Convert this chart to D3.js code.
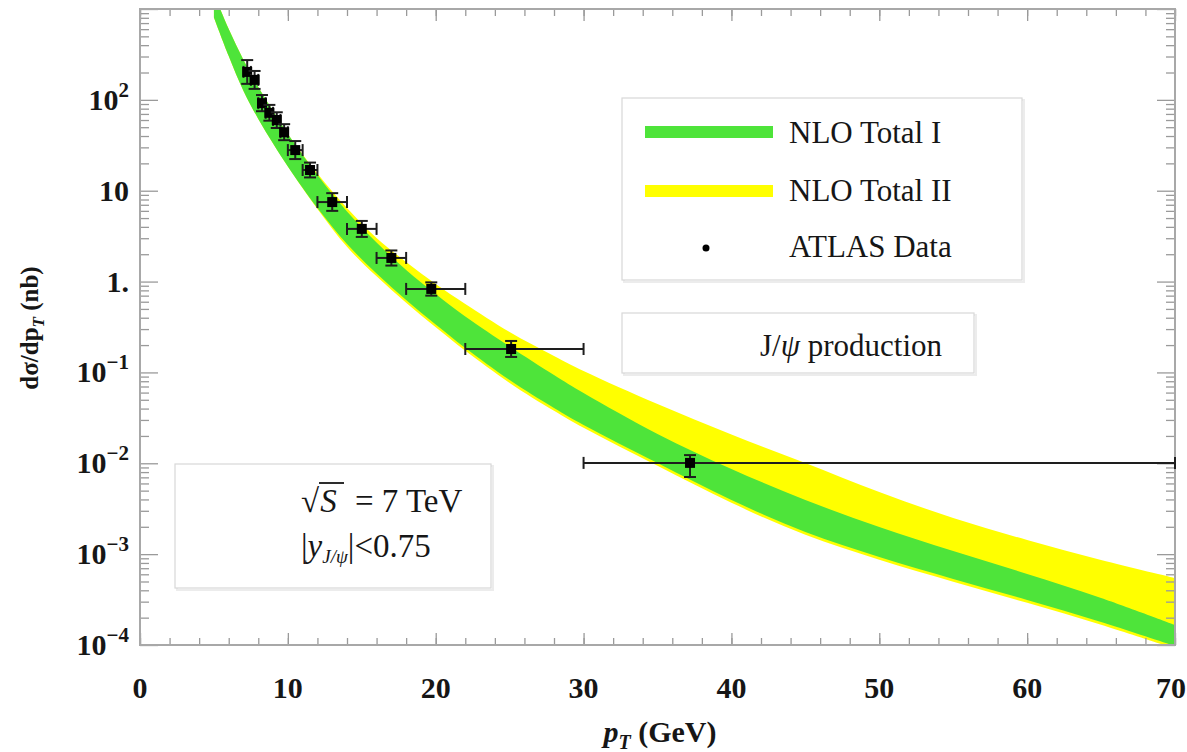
<!DOCTYPE html>
<html><head><meta charset="utf-8">
<script src="https://cdn.jsdelivr.net/npm/d3@7/dist/d3.min.js"></script>
<style>
body{margin:0;background:#fff;}
svg text{font-family:"Liberation Serif","DejaVu Serif",serif;fill:#161616;}
</style></head>
<body><svg id="c" width="1187" height="752"></svg>
<script>
// ---- band data (pT in GeV, dσ/dpT in nb) ----
const bandPt = [5,6,7,8,9,10,12,14,16,18,20,22,25,28,30,35,40,45,50,55,60,65,70];
const greenUpper = [1463,602.5,274.6,138.5,75.4,42.1,14.89,5.906,2.69,1.341,0.730,0.4127,0.1930,0.0937,0.0594,0.02102,0.00866,0.003946,0.001990,0.001083,0.000605,0.000329,0.000166];
const greenLower = [808,303.9,125.2,61.6,33.1,18.5,6.45,2.592,1.227,0.627,0.3370,0.1858,0.0825,0.0406,0.02640,0.01008,0.003946,0.001753,0.000930,0.000533,0.000313,0.0001793,0.0000976];
const yellowUpper = [1463,602.5,274.6,138.5,75.4,42.1,15.47,6.45,3.016,1.642,0.9406,0.5665,0.2787,0.1517,0.1037,0.0449,0.02075,0.01008,0.00483,0.0025,0.001431,0.000862,0.000546];
const yellowLower = [808,303.9,125.2,61.6,33.1,18.5,6.3,2.41,1.141,0.583,0.3134,0.1728,0.0767,0.0378,0.02455,0.00937,0.00367,0.00163,0.000865,0.000496,0.000291,0.0001667,0.0000908];

// ---- ATLAS data ----
const dataPt  = [7.25,7.75,8.25,8.75,9.25,9.75,10.5,11.5,13.0,15.0,17.0,19.7,25.1,37.2];
const dataVal = [203,166,92,72,60,44,28,16.9,7.5,3.8,1.82,0.83,0.181,0.0101];
const dataLo  = [150,132,75,59,49,36,22.3,14.0,6.0,3.1,1.5,0.70,0.148,0.00706];
const dataHi  = [274,208,113,88,73,54,35.2,20.4,9.4,4.65,2.2,0.98,0.222,0.0123];
const binLo   = [7,7.5,8,8.5,9,9.5,10,11,12,14,16,18,22,30];
const binHi   = [7.5,8,8.5,9,9.5,10,11,12,14,16,18,22,30,70];

// ---- axis ticks ----
const xTicks = [0,10,20,30,40,50,60,70];
const xTickLabels = ["0","10","20","30","40","50","60","70"];
const yTicks = [1e-4,1e-3,1e-2,1e-1,1,10,100];
const yTickLabels = [["10","−4"],["10","−3"],["10","−2"],["10","−1"],["1.",""],["10",""],["10","2"]];

const colGreen = "#4ee43a", colYellow = "#ffff00";

const svg = d3.select("#c");
const L = 140, R = 1175, T = 9, B = 645;
const x = d3.scaleLinear().domain([0,70]).range([L,R]);
const y = d3.scaleLog().domain([1e-4,1e3]).range([B,T]);

svg.append("defs").append("clipPath").attr("id","clip")
  .append("rect").attr("x",L).attr("y",T).attr("width",R-L).attr("height",B-T);

const band = (up, lo) => d3.area()
  .x((d,i)=>x(bandPt[i])).y0((d,i)=>y(lo[i])).y1((d,i)=>y(up[i]))
  .curve(d3.curveCatmullRom.alpha(0.5))(bandPt);

const plot = svg.append("g").attr("clip-path","url(#clip)");
plot.append("path").attr("d",band(yellowUpper,yellowLower)).attr("fill",colYellow);
plot.append("path").attr("d",band(greenUpper,greenLower)).attr("fill",colGreen);

// frame & ticks
const tickCol = "#9a9a9a";
const fr = svg.append("g");
const xMinor = d3.range(0,71,2);
const yMinor = [];
for (let e=-4;e<3;e++) for (let m=2;m<=9;m++) yMinor.push(m*Math.pow(10,e));

fr.append("g").attr("transform",`translate(0,${B})`)
  .call(d3.axisBottom(x).tickValues(xMinor).tickSize(-7).tickFormat(""));
fr.append("g").attr("transform",`translate(0,${B})`)
  .call(d3.axisBottom(x).tickValues(xTicks).tickSize(-12).tickFormat(""));
fr.append("g").attr("transform",`translate(0,${T})`)
  .call(d3.axisTop(x).tickValues(xMinor).tickSize(-7).tickFormat(""));
fr.append("g").attr("transform",`translate(0,${T})`)
  .call(d3.axisTop(x).tickValues(xTicks).tickSize(-12).tickFormat(""));
fr.append("g").attr("transform",`translate(${L},0)`)
  .call(d3.axisLeft(y).tickValues(yMinor).tickSize(-9).tickFormat(""));
fr.append("g").attr("transform",`translate(${L},0)`)
  .call(d3.axisLeft(y).tickValues(yTicks.concat([1000])).tickSize(-18).tickFormat(""));
fr.append("g").attr("transform",`translate(${R},0)`)
  .call(d3.axisRight(y).tickValues(yMinor).tickSize(-9).tickFormat(""));
fr.append("g").attr("transform",`translate(${R},0)`)
  .call(d3.axisRight(y).tickValues(yTicks.concat([1000])).tickSize(-18).tickFormat(""));
fr.selectAll(".domain").remove();
fr.selectAll(".tick line").attr("stroke",tickCol).attr("stroke-width",1.3);
fr.append("rect").attr("x",L).attr("y",T).attr("width",R-L).attr("height",B-T)
  .attr("fill","none").attr("stroke","#a8a8a8").attr("stroke-width",2);

// tick labels
const lab = svg.append("g").attr("font-weight","bold");
xTicks.forEach((v,i)=>{
  lab.append("text").attr("x",Math.min(x(v),1171)).attr("y",698).attr("text-anchor","middle")
    .attr("font-size",30).text(xTickLabels[i]);
});
yTicks.forEach((v,i)=>{
  const t = lab.append("text").attr("x",129).attr("y",y(v)+10).attr("text-anchor","end").attr("font-size",30);
  t.append("tspan").text(yTickLabels[i][0]);
  if (yTickLabels[i][1]) t.append("tspan").attr("font-size",21).attr("dy",-13).text(yTickLabels[i][1]);
});

// axis titles
const xt = svg.append("text").attr("x",660).attr("y",742).attr("text-anchor","middle")
  .attr("font-size",30).attr("font-weight","bold");
xt.append("tspan").attr("font-style","italic").text("p");
xt.append("tspan").attr("font-style","italic").attr("font-size",20).attr("dy",7).text("T");
xt.append("tspan").attr("dy",-7).text(" (GeV)");

const yt = svg.append("text").attr("transform","translate(38,328) rotate(-90)")
  .attr("text-anchor","middle").attr("font-size",25).attr("font-weight","bold");
yt.append("tspan").text("dσ/dp");
yt.append("tspan").attr("font-style","italic").attr("font-size",17).attr("dy",6).text("T");
yt.append("tspan").attr("dy",-6).text(" (nb)");

// data with error bars
const dg = svg.append("g").attr("stroke","#1e1e1e").attr("stroke-width",2);
dataPt.forEach((p,i)=>{
  const cx = x(p), cy = y(dataVal[i]);
  const x0 = x(binLo[i]), x1 = x(binHi[i]);
  dg.append("line").attr("x1",x0).attr("x2",x1).attr("y1",cy).attr("y2",cy);
  dg.append("line").attr("x1",x0).attr("x2",x0).attr("y1",cy-6).attr("y2",cy+6);
  dg.append("line").attr("x1",x1).attr("x2",x1).attr("y1",cy-6).attr("y2",cy+6);
  const ylo = y(dataLo[i]), yhi = y(dataHi[i]);
  dg.append("line").attr("x1",cx).attr("x2",cx).attr("y1",ylo).attr("y2",yhi);
  dg.append("line").attr("x1",cx-6).attr("x2",cx+6).attr("y1",ylo).attr("y2",ylo);
  dg.append("line").attr("x1",cx-6).attr("x2",cx+6).attr("y1",yhi).attr("y2",yhi);
  dg.append("rect").attr("x",cx-5).attr("y",cy-5).attr("width",10).attr("height",10)
    .attr("fill","#000").attr("stroke","none");
});

// boxes
const box = (x0,y0,w,h)=>{
  svg.append("rect").attr("x",x0+2).attr("y",y0+2).attr("width",w).attr("height",h)
    .attr("fill","none").attr("stroke","#ececec").attr("stroke-width",2);
  svg.append("rect").attr("x",x0).attr("y",y0).attr("width",w).attr("height",h)
    .attr("fill","#fff").attr("stroke","#d8d8d8").attr("stroke-width",1.2);
};
box(622,98,400,182);
box(622,313,352,60);
box(175,464,316,124);

// legend
const lg = svg.append("g");
lg.append("line").attr("x1",645).attr("x2",773).attr("y1",132).attr("y2",132).attr("stroke",colGreen).attr("stroke-width",12);
lg.append("line").attr("x1",645).attr("x2",773).attr("y1",191).attr("y2",191).attr("stroke",colYellow).attr("stroke-width",12);
lg.append("circle").attr("cx",706).attr("cy",248).attr("r",3.5).attr("fill","#000");
const legTexts = ["NLO Total I","NLO Total II","ATLAS Data"];
const legY = [143,201,257];
legTexts.forEach((t,i)=>lg.append("text").attr("x",789).attr("y",legY[i]).attr("font-size",31).text(t));

const jp = svg.append("text").attr("x",760).attr("y",356).attr("font-size",31);
jp.append("tspan").text("J/");
jp.append("tspan").attr("font-style","italic").text("ψ");
jp.append("tspan").text(" production");

// sqrt(S) box
const r1 = svg.append("text").attr("x",301).attr("y",512).attr("font-size",33);
r1.append("tspan").text("√");
r1.append("tspan").attr("font-style","italic").attr("dx",1).text("S");
r1.append("tspan").attr("dx",10).text(" = 7 TeV");
svg.append("line").attr("x1",319).attr("x2",344).attr("y1",483).attr("y2",483)
  .attr("stroke","#161616").attr("stroke-width",1.8);
const r2 = svg.append("text").attr("x",301).attr("y",557).attr("font-size",33);
r2.append("tspan").text("|");
r2.append("tspan").attr("font-style","italic").text("y");
r2.append("tspan").attr("font-style","italic").attr("font-size",19).attr("dy",6).text("J/ψ");
r2.append("tspan").attr("dy",-6).text("|<0.75");
</script></body></html>
